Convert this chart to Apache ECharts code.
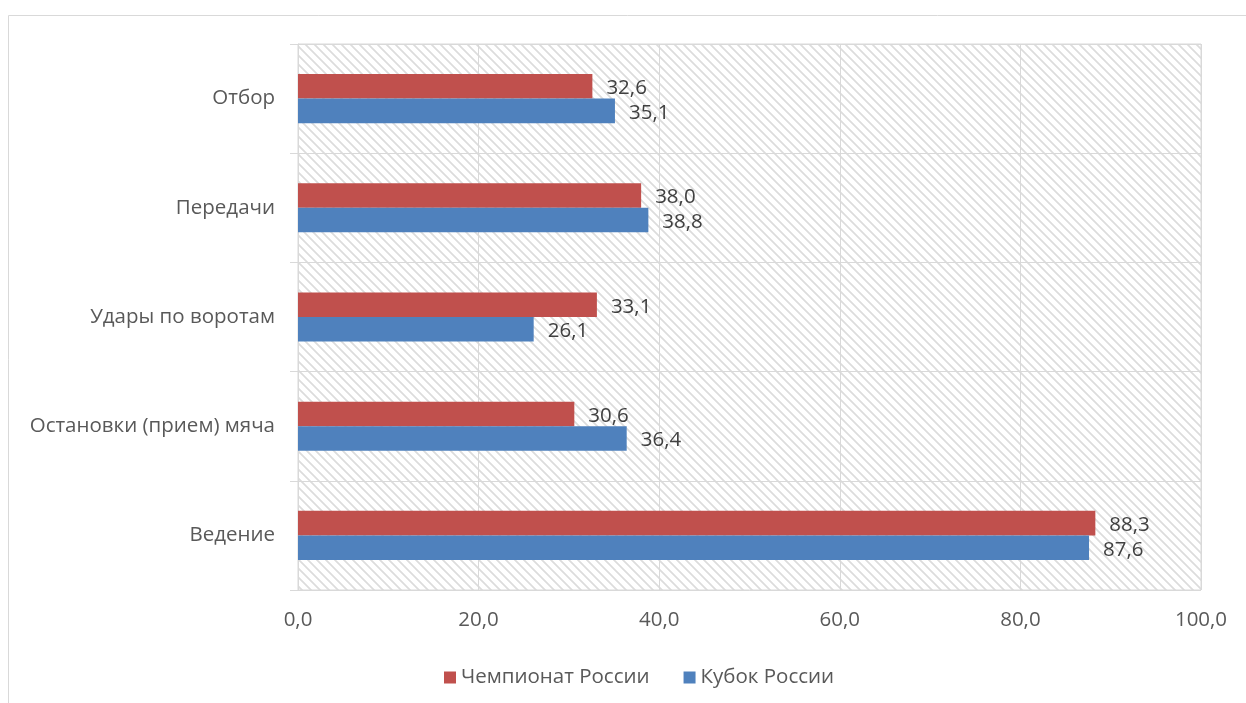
<!DOCTYPE html>
<html>
<head>
<meta charset="utf-8">
<script src="https://cdn.jsdelivr.net/npm/echarts@6/dist/echarts.min.js"></script>
<style>
  html, body { margin: 0; padding: 0; background: #fff; }
  #chart { width: 1246px; height: 703px; }
</style>
</head>
<body>
<div id="chart"></div>
<script>
// данные
var categories = ["Ведение", "Остановки (прием) мяча", "Удары по воротам", "Передачи", "Отбор"];
var champValues = [88.3, 30.6, 33.1, 38.0, 32.6];
var cupValues = [87.6, 36.4, 26.1, 38.8, 35.1];
var xTicks = [0, 20, 40, 60, 80, 100];

function fmt(v) {
  return Number(v).toFixed(1).replace(".", ",");
}

// штриховка фона
var c = document.createElement("canvas");
c.width = 9; c.height = 9;
var ctx = c.getContext("2d");
ctx.strokeStyle = "#dcdcdc";
ctx.lineWidth = 1.7;
ctx.beginPath();
ctx.moveTo(-1, -1); ctx.lineTo(10, 10);
ctx.moveTo(-1, 8); ctx.lineTo(1, 10);
ctx.moveTo(8, -1); ctx.lineTo(10, 1);
ctx.stroke();

var font = "'Open Sans', sans-serif";
var fs = 20.5;
var myChart = echarts.init(document.getElementById("chart"));
var option = {
  animation: false,
  textStyle: { fontFamily: font },
  graphic: [{
    type: "rect",
    shape: { x: 8.5, y: 15.5, width: 1400, height: 900 },
    style: { fill: "none", stroke: "#d9d9d9", lineWidth: 1 },
    silent: true
  }],
  grid: {
    left: 298, right: 45, top: 44, bottom: 113,
    show: true,
    backgroundColor: { image: c, repeat: "repeat" },
    borderColor: "#d9d9d9",
    borderWidth: 1
  },
  legend: {
    data: ["Чемпионат России", "Кубок России"],
    left: 439, top: 662,
    itemWidth: 12, itemHeight: 12, itemGap: 34,
    icon: "rect",
    textStyle: { fontSize: fs, color: "#595959", fontFamily: font }
  },
  xAxis: {
    type: "value",
    min: xTicks[0], max: xTicks[xTicks.length - 1], interval: 20,
    axisLine: { show: false },
    axisTick: { show: false },
    axisLabel: { formatter: fmt, fontSize: fs, color: "#595959", margin: 20 },
    splitLine: { lineStyle: { color: "#d9d9d9", width: 1 } }
  },
  yAxis: {
    type: "category",
    data: categories,
    axisLine: { lineStyle: { color: "#d9d9d9" } },
    axisTick: { show: true, length: 8, lineStyle: { color: "#d9d9d9" } },
    axisLabel: { fontSize: fs, color: "#595959", margin: 23 },
    splitLine: { show: true, lineStyle: { color: "#d9d9d9" } }
  },
  series: [
    {
      name: "Чемпионат России",
      type: "bar",
      data: champValues,
      barGap: "0%",
      barCategoryGap: "55%",
      itemStyle: { color: "#c0504d" },
      label: { show: true, position: "right", distance: 14, offset: [0, 2], formatter: function (p) { return fmt(p.value); }, fontSize: fs, color: "#404040" }
    },
    {
      name: "Кубок России",
      type: "bar",
      data: cupValues,
      barGap: "0%",
      barCategoryGap: "55%",
      itemStyle: { color: "#4f81bd" },
      label: { show: true, position: "right", distance: 14, offset: [0, 2], formatter: function (p) { return fmt(p.value); }, fontSize: fs, color: "#404040" }
    }
  ]
};
myChart.setOption(option);
</script>
</body>
</html>
